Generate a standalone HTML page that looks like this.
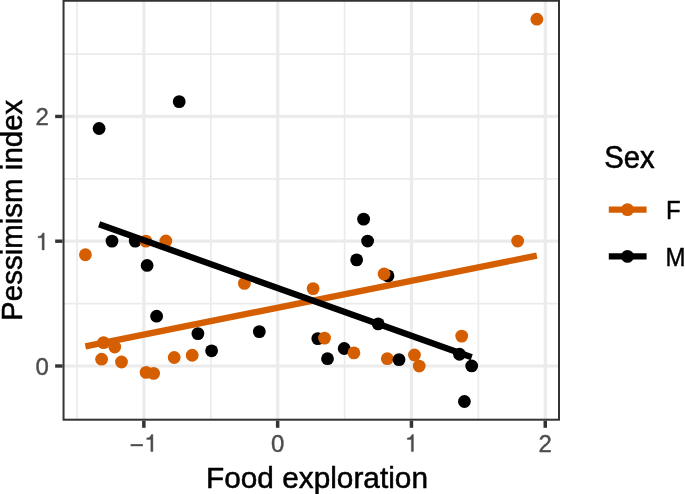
<!DOCTYPE html>
<html><head><meta charset="utf-8"><title>Plot</title>
<style>html,body{margin:0;padding:0;background:#fff;overflow:hidden}body{width:685px;height:494px;position:relative;font-family:"Liberation Sans",sans-serif}</style>
</head><body>
<svg width="685" height="494" viewBox="0 0 685 494" style="position:absolute;left:0;top:0;will-change:transform">
<rect x="0" y="0" width="685" height="494" fill="#ffffff"/>
<g stroke="#ebebeb" stroke-width="1.7" fill="none">
<line x1="77.0" y1="0.75" x2="77.0" y2="419.7"/>
<line x1="210.8" y1="0.75" x2="210.8" y2="419.7"/>
<line x1="344.6" y1="0.75" x2="344.6" y2="419.7"/>
<line x1="478.4" y1="0.75" x2="478.4" y2="419.7"/>
<line x1="63.55" y1="303.6" x2="559.0" y2="303.6"/>
<line x1="63.55" y1="178.8" x2="559.0" y2="178.8"/>
<line x1="63.55" y1="54.1" x2="559.0" y2="54.1"/>
</g>
<g stroke="#ebebeb" stroke-width="3.2" fill="none">
<line x1="143.9" y1="0.75" x2="143.9" y2="419.7"/>
<line x1="277.7" y1="0.75" x2="277.7" y2="419.7"/>
<line x1="411.5" y1="0.75" x2="411.5" y2="419.7"/>
<line x1="545.3" y1="0.75" x2="545.3" y2="419.7"/>
<line x1="63.55" y1="366.0" x2="559.0" y2="366.0"/>
<line x1="63.55" y1="241.2" x2="559.0" y2="241.2"/>
<line x1="63.55" y1="116.45" x2="559.0" y2="116.45"/>
</g>
<g fill="#000000">
<circle cx="99.1" cy="128.5" r="6.4"/>
<circle cx="179.2" cy="101.65" r="6.4"/>
<circle cx="112.0" cy="241.1" r="6.4"/>
<circle cx="135.2" cy="241.1" r="6.4"/>
<circle cx="147.1" cy="265.45" r="6.4"/>
<circle cx="156.6" cy="316.2" r="6.4"/>
<circle cx="197.9" cy="333.6" r="6.4"/>
<circle cx="211.6" cy="350.8" r="6.4"/>
<circle cx="259.3" cy="331.6" r="6.4"/>
<circle cx="317.8" cy="338.6" r="6.4"/>
<circle cx="327.5" cy="358.7" r="6.4"/>
<circle cx="344.2" cy="348.5" r="6.4"/>
<circle cx="356.65" cy="259.85" r="6.4"/>
<circle cx="363.6" cy="219.15" r="6.4"/>
<circle cx="367.6" cy="241.05" r="6.4"/>
<circle cx="378.2" cy="323.9" r="6.4"/>
<circle cx="388.0" cy="275.9" r="6.4"/>
<circle cx="459.5" cy="354.25" r="6.4"/>
<circle cx="471.7" cy="365.95" r="6.4"/>
<circle cx="464.4" cy="401.5" r="6.4"/>
</g>
<g fill="#d55e00">
<circle cx="85.4" cy="254.75" r="6.4"/>
<circle cx="103.55" cy="342.6" r="6.4"/>
<circle cx="114.75" cy="347.0" r="6.4"/>
<circle cx="101.6" cy="359.2" r="6.4"/>
<circle cx="121.5" cy="362.0" r="6.4"/>
<circle cx="145.85" cy="241.1" r="6.4"/>
<circle cx="146.1" cy="372.4" r="6.4"/>
<circle cx="153.6" cy="373.4" r="6.4"/>
<circle cx="165.85" cy="241.0" r="6.4"/>
<circle cx="174.2" cy="357.5" r="6.4"/>
<circle cx="192.2" cy="355.25" r="6.4"/>
<circle cx="244.4" cy="283.4" r="6.4"/>
<circle cx="313.1" cy="288.6" r="6.4"/>
<circle cx="324.5" cy="338.1" r="6.4"/>
<circle cx="353.9" cy="352.9" r="6.4"/>
<circle cx="384.1" cy="274.0" r="6.4"/>
<circle cx="387.3" cy="358.7" r="6.4"/>
<circle cx="414.45" cy="355.0" r="6.4"/>
<circle cx="419.2" cy="366.05" r="6.4"/>
<circle cx="461.7" cy="336.1" r="6.4"/>
<circle cx="517.65" cy="241.07" r="6.4"/>
<circle cx="536.85" cy="19.2" r="6.4"/>
</g>
<g fill="#000000">
<circle cx="399.0" cy="359.6" r="6.4"/>
</g>
<line x1="85.4" y1="346.4" x2="536.85" y2="255.55" stroke="#d55e00" stroke-width="6.3"/>
<line x1="99.1" y1="224.3" x2="471.7" y2="357.2" stroke="#000000" stroke-width="6.3"/>
<rect x="63.55" y="0.75" width="495.45" height="418.95" fill="none" stroke="#333333" stroke-width="2.0"/>
<g stroke="#333333" stroke-width="3.4">
<line x1="143.85" y1="420.7" x2="143.85" y2="427.8" stroke-width="3.5"/>
<line x1="277.65" y1="420.7" x2="277.65" y2="427.8" stroke-width="3.5"/>
<line x1="411.45" y1="420.7" x2="411.45" y2="427.8" stroke-width="3.5"/>
<line x1="545.25" y1="420.7" x2="545.25" y2="427.8" stroke-width="3.5"/>
<line x1="62.55" y1="366.0" x2="55.15" y2="366.0"/>
<line x1="62.55" y1="241.2" x2="55.15" y2="241.2"/>
<line x1="62.55" y1="116.45" x2="55.15" y2="116.45"/>
</g>
<g font-family="Liberation Sans, sans-serif" font-size="24.0" fill="#4d4d4d" stroke="#4d4d4d" stroke-width="0.4">
<text x="277.7" y="451.6" text-anchor="middle">0</text>
<text x="545.3" y="451.6" text-anchor="middle">2</text>
<text x="48.9" y="374.75" text-anchor="end">0</text>
<text x="48.9" y="125.2" text-anchor="end">2</text>
</g>
<path d="M359 0L271 0L271 505L102 505L102 568C190 572 262 600 299 709L359 709Z" transform="translate(404.83,451.60) scale(0.02400,-0.02400)" fill="#4d4d4d" stroke="#4d4d4d" stroke-width="16.7"/>
<path d="M359 0L271 0L271 505L102 505L102 568C190 572 262 600 299 709L359 709Z" transform="translate(144.30,451.60) scale(0.02400,-0.02400)" fill="#4d4d4d" stroke="#4d4d4d" stroke-width="16.7"/>
<rect x="130.6" y="444.15" width="12.3" height="2.05" fill="#4d4d4d"/>
<path d="M359 0L271 0L271 505L102 505L102 568C190 572 262 600 299 709L359 709Z" transform="translate(35.60,249.95) scale(0.02400,-0.02400)" fill="#4d4d4d" stroke="#4d4d4d" stroke-width="16.7"/>
<g font-family="Liberation Sans, sans-serif" font-size="29.8" fill="#000000" stroke="#000000" stroke-width="0.5">
<text transform="translate(317,487.9) scale(1,1.015)" text-anchor="middle">Food exploration</text>
<text transform="translate(21.8,210.3) rotate(-90) scale(1,1.015)" text-anchor="middle" font-size="29.5">Pessimism index</text>
<text transform="translate(604.2,167.6) scale(1,1.07)" font-size="29.3">Sex</text>
</g>
<line x1="608.8" y1="209.6" x2="646.6" y2="209.6" stroke="#d55e00" stroke-width="6.3"/>
<circle cx="627.5" cy="209.6" r="6.4" fill="#d55e00"/>
<line x1="608.8" y1="256.4" x2="646.6" y2="256.4" stroke="#000" stroke-width="6.3"/>
<circle cx="627.5" cy="256.4" r="6.4" fill="#000"/>
<g font-family="Liberation Sans, sans-serif" font-size="24.0" fill="#000000" stroke="#000000" stroke-width="0.4">
<text transform="translate(666.1,218.6) scale(1,1.045)">F</text>
<text transform="translate(665.6,265.5) scale(1,1.045)">M</text>
</g>
</svg>
</body></html>
